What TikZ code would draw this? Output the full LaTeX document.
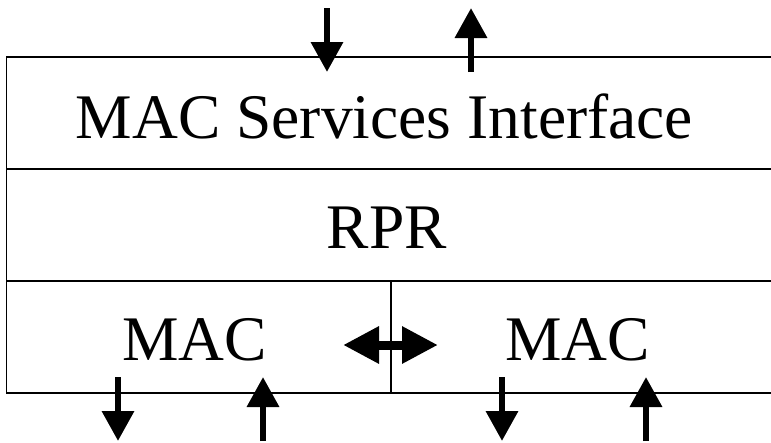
\documentclass[tikz,border=0pt]{standalone}
\usepackage{fontspec}
\setmainfont{Liberation Serif}
\usetikzlibrary{arrows.meta}

\begin{document}
\begin{tikzpicture}[x=1pt, y=-1pt,
		layer/.style={line width=1.6pt},
		label/.style={font=\fontsize{63.5}{76}\selectfont, anchor=base, inner sep=0pt},
		flow/.style={line width=6.5pt, -{Triangle[length=30pt, width=31pt]}},
		swap/.style={line width=9pt, {Triangle[length=36pt, width=35pt]}-{Triangle[length=36pt, width=35pt]}}
	]
		\clip (0,0) rectangle (771,442);
		%
		% stack of layers
		\draw [layer] (790,57) -- (6.5,57) -- (6.5,393) -- (790,393);
		\draw [layer] (6.5,169) -- (790,169);
		\draw [layer] (6.5,281) -- (790,281);
		\draw [line width=1.1pt] (391,281) -- (391,393);
		%
		\node [label, anchor=base west] (upper) at (400,-13.5) {(\hspace{241.7pt})};
		\node [label] (msi) at (384.5,138) {MAC Services Interface};
		\node [label] (rpr) at (387,248) {RPR};
		\node [label] (macwest) at (194.5,360) {MAC};
		\node [label] (maceast) at (577.5,360) {MAC};
		%
		% service arrows
		\coordinate (indown) at (327,8);
		\coordinate (indownend) at (327,72);
		\coordinate (outup) at (471,72);
		\coordinate (outupend) at (471,8);
		\draw [flow] (indown) -- (indownend);
		\draw [flow] (outup) -- (outupend);
		%
		% between the two MACs
		\coordinate (westtip) at (343,345);
		\coordinate (easttip) at (438,345);
		\draw [swap] (westtip) -- (easttip);
		%
		% ring arrows
		\coordinate (wa) at (118,377);
		\coordinate (wa') at (118,441);
		\coordinate (wb) at (263,441);
		\coordinate (wb') at (263,377);
		\coordinate (ea) at (502,377);
		\coordinate (ea') at (502,441);
		\coordinate (eb) at (646,441);
		\coordinate (eb') at (646,377);
		\draw [flow] (wa) -- (wa');
		\draw [flow] (wb) -- (wb');
		\draw [flow] (ea) -- (ea');
		\draw [flow] (eb) -- (eb');
	\end{tikzpicture}
\end{document}
